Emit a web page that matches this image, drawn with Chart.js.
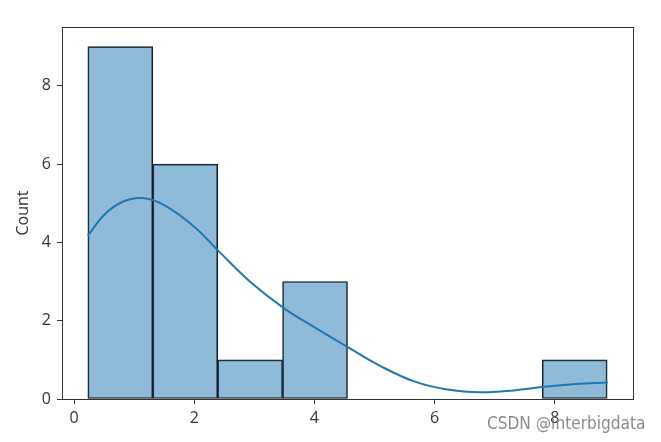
<!DOCTYPE html>
<html lang="en">
<head>
    <meta charset="UTF-8">
    <title>Histogram</title>
    <script src="https://cdn.jsdelivr.net/npm/chart.js"></script>
    <style>
        html, body { margin: 0; padding: 0; background: #fff; }
        .wrap { position: relative; width: 661px; height: 442px; }
    </style>
</head>
<body>
    <div class="wrap">
        <canvas id="histChart" width="661" height="442"></canvas>
    </div>

    <script>
        // bins and counts
        const binEdges = [0.23, 1.31, 2.39, 3.47, 4.55, 5.63, 6.71, 7.79, 8.87];
        const counts = [9, 6, 1, 3, 0, 0, 0, 1];

        // kde curve (already scaled to counts)
        const kdeX = [0.23, 0.5, 0.8, 1.14, 1.5, 2.0, 2.41, 2.94, 3.49, 3.99, 4.57, 5.10, 5.66, 6.21, 6.77, 7.32, 7.82, 8.35, 8.88];
        const kdeY = [4.17, 4.70, 5.03, 5.13, 4.95, 4.40, 3.77, 2.98, 2.32, 1.84, 1.31, 0.84, 0.45, 0.24, 0.17, 0.22, 0.31, 0.38, 0.42];

        const xTicks = [0, 2, 4, 6, 8];
        const yTicks = [0, 2, 4, 6, 8];

        const barData = counts.map((c, i) => ({
            x: (binEdges[i] + binEdges[i + 1]) / 2,
            y: c === 0 ? null : c
        }));
        const kdeData = kdeX.map((x, i) => ({ x: x, y: kdeY[i] }));

        const tickFont = { family: '"Open Sans", "DejaVu Sans", sans-serif', size: 16 };

        // box round the axes + watermark
        const frame = {
            id: 'frame',
            afterDraw(chart) {
                const a = chart.chartArea;
                const ctx = chart.ctx;
                ctx.save();
                ctx.strokeStyle = '#333';
                ctx.lineWidth = 1;
                ctx.strokeRect(a.left + 0.5, a.top + 0.5, a.right - a.left, a.bottom - a.top);

                const txt = 'CSDN @interbigdata';
                ctx.font = '18px "Liberation Sans Narrow", "DejaVu Sans Condensed", sans-serif';
                const w = ctx.measureText(txt).width;
                const size = 18 * 158 / w;
                ctx.font = size.toFixed(1) + 'px "Liberation Sans Narrow", "DejaVu Sans Condensed", sans-serif';
                ctx.fillStyle = 'rgba(125,125,125,0.9)';
                ctx.textBaseline = 'alphabetic';
                ctx.fillText(txt, 487, 429);
                ctx.restore();
            }
        };

        const ctx = document.getElementById('histChart').getContext('2d');
        new Chart(ctx, {
            type: 'bar',
            data: {
                datasets: [
                    {
                        type: 'line',
                        label: 'kde',
                        data: kdeData,
                        borderColor: '#1f77b4',
                        borderWidth: 2,
                        pointRadius: 0,
                        tension: 0.4,
                        fill: false,
                        order: 0
                    },
                    {
                        label: 'Count',
                        data: barData,
                        backgroundColor: 'rgba(31, 119, 180, 0.5)',
                        borderColor: '#1a1a1a',
                        borderWidth: 1,
                        borderSkipped: false,
                        barPercentage: 1,
                        categoryPercentage: 1,
                        order: 1
                    }
                ]
            },
            plugins: [frame],
            options: {
                responsive: false,
                animation: false,
                layout: { padding: { left: 14, top: 27, right: 28, bottom: 0 } },
                plugins: {
                    legend: { display: false },
                    tooltip: { enabled: false }
                },
                scales: {
                    x: {
                        type: 'linear',
                        min: -0.2,
                        max: 9.3,
                        offset: false,
                        afterBuildTicks: s => { s.ticks = xTicks.map(v => ({ value: v })); },
                        afterFit: s => { s.height = 43; },
                        grid: { display: true, offset: false, drawOnChartArea: false, tickLength: 5, color: '#333' },
                        border: { display: false },
                        ticks: { color: '#333', font: tickFont, padding: 5 },
                    },
                    y: {
                        min: 0,
                        max: 9.5,
                        afterBuildTicks: s => { s.ticks = yTicks.map(v => ({ value: v })); },
                        afterFit: s => { s.width = 48; },
                        grid: { display: true, drawOnChartArea: false, tickLength: 5, color: '#333' },
                        border: { display: false },
                        ticks: { color: '#333', font: tickFont, padding: 6 },
                        title: { display: true, text: 'Count', color: '#333', font: tickFont, padding: 0 }
                    }
                }
            }
        });
    </script>
</body>
</html>
